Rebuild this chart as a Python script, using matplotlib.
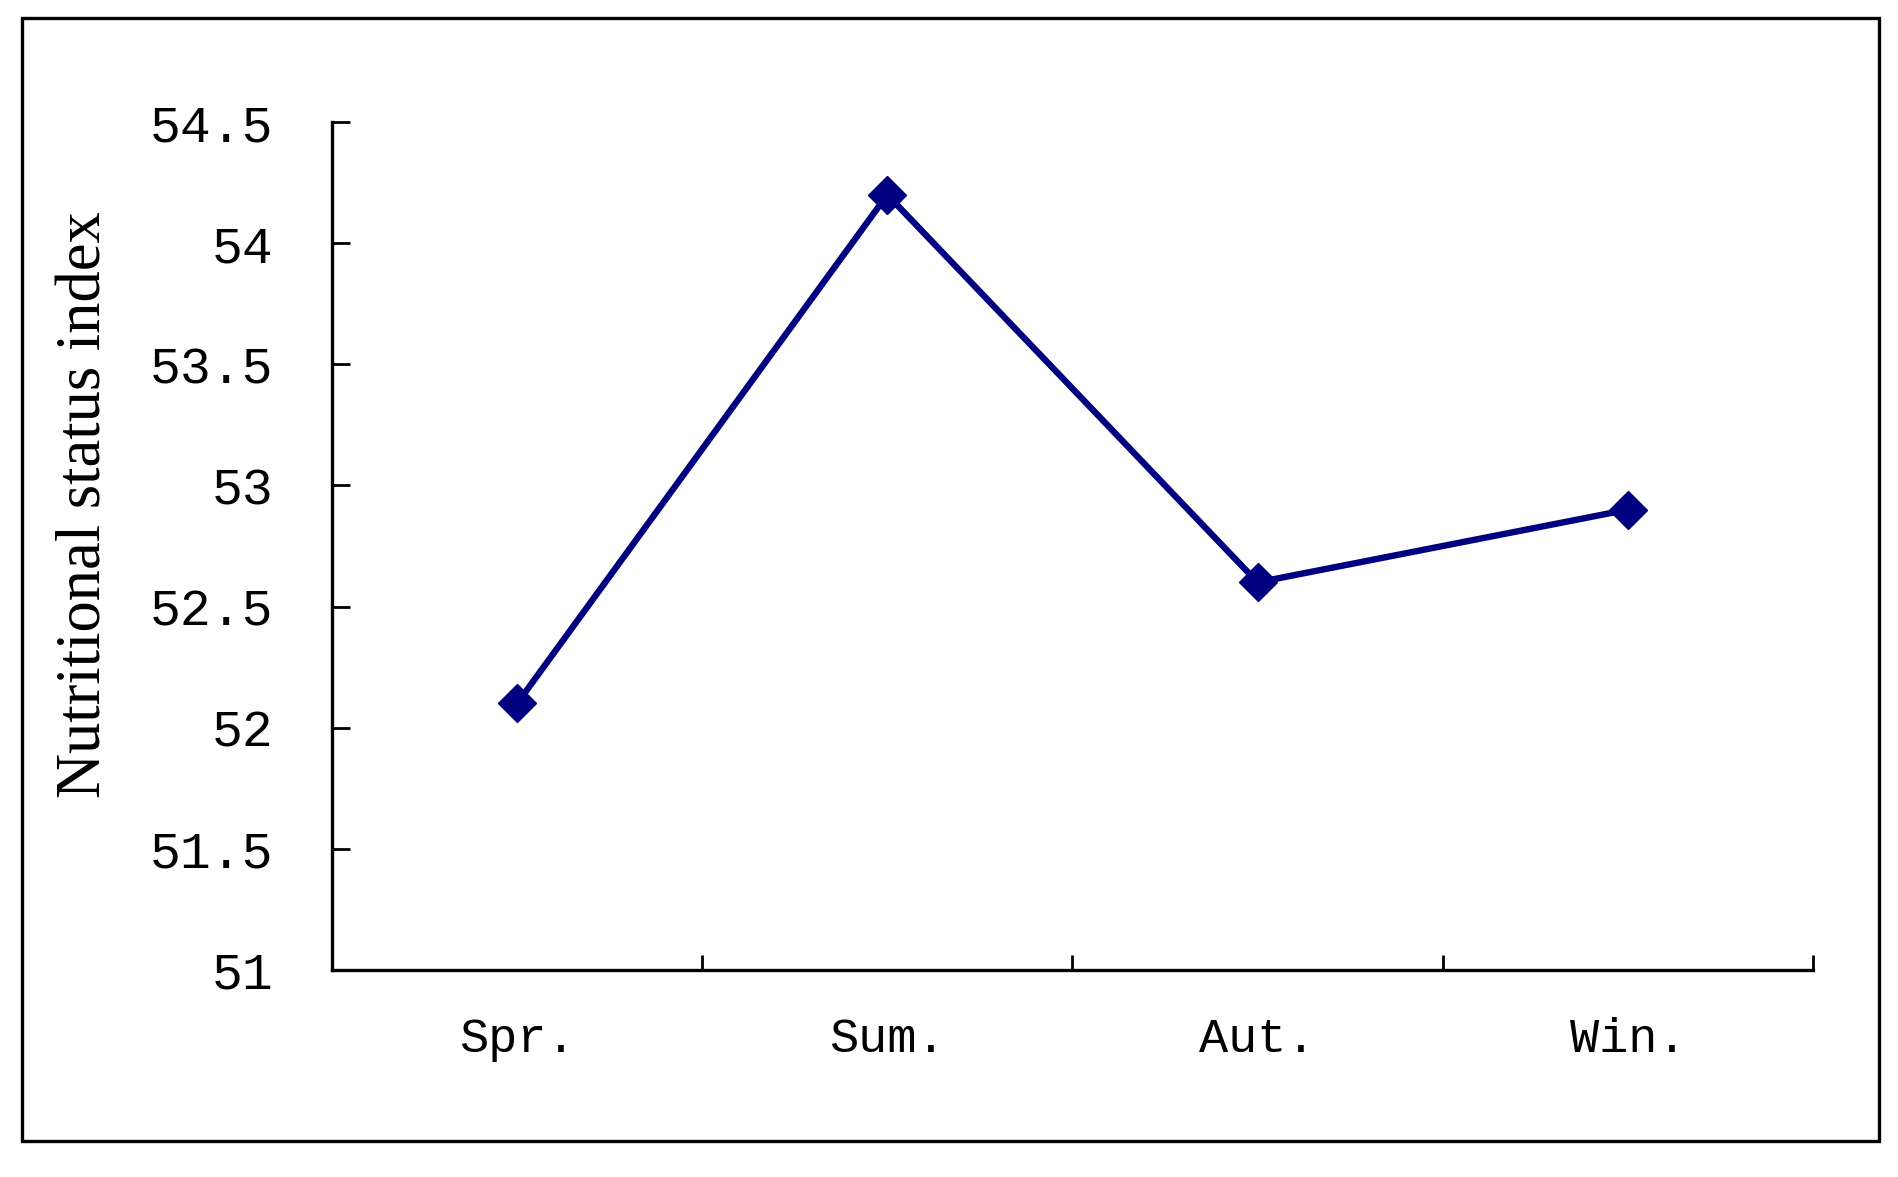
import matplotlib.pyplot as plt
from matplotlib.patches import Rectangle

# Seasonal nutritional status index
seasons = ['Spr.', 'Sum.', 'Aut.', 'Win.']
index_values = [52.1, 54.2, 52.6, 52.9]
y_ticks = [51, 51.5, 52, 52.5, 53, 53.5, 54, 54.5]
y_tick_labels = ['51', '51.5', '52', '52.5', '53', '53.5', '54', '54.5']

NAVY = '#000080'

fig = plt.figure(figsize=(18.99, 11.77), dpi=100)
fig.patch.set_facecolor('white')

# outer frame around the whole chart
fig.patches.append(Rectangle((0.0116, 0.031), 0.978, 0.954, transform=fig.transFigure,
                             fill=False, edgecolor='black', linewidth=2.4))

ax = fig.add_axes([0.1748, 0.1759, 0.7799, 0.7204])
x = list(range(len(seasons)))
ax.plot(x, index_values, color=NAVY, linewidth=4.6, marker='D', markersize=19,
        markerfacecolor=NAVY, markeredgecolor=NAVY)

ax.set_xlim(-0.5, len(seasons) - 0.5)
ax.set_ylim(51, 54.5)

for side in ['top', 'right']:
    ax.spines[side].set_visible(False)
for side in ['left', 'bottom']:
    ax.spines[side].set_color('black')
    ax.spines[side].set_linewidth(2.4)

ax.set_yticks(y_ticks)
ax.set_yticklabels(y_tick_labels, fontfamily='Liberation Mono', fontsize=37)
ax.tick_params(axis='y', direction='in', length=13, width=2.0, pad=42)

# category labels at centres, tick marks at boundaries
ax.set_xticks(x)
ax.set_xticklabels(seasons, fontfamily='Liberation Mono', fontsize=35)
ax.tick_params(axis='x', which='major', length=0, pad=34)
ax.set_xticks([0.5, 1.5, 2.5, 3.5], minor=True)
ax.tick_params(axis='x', which='minor', direction='in', length=11, width=2.0)

ax.set_ylabel('Nutritional status index', fontfamily='Liberation Serif', fontsize=45)
ax.yaxis.set_label_coords(-0.147, 0.549)

plt.savefig('out.png', dpi=100)
